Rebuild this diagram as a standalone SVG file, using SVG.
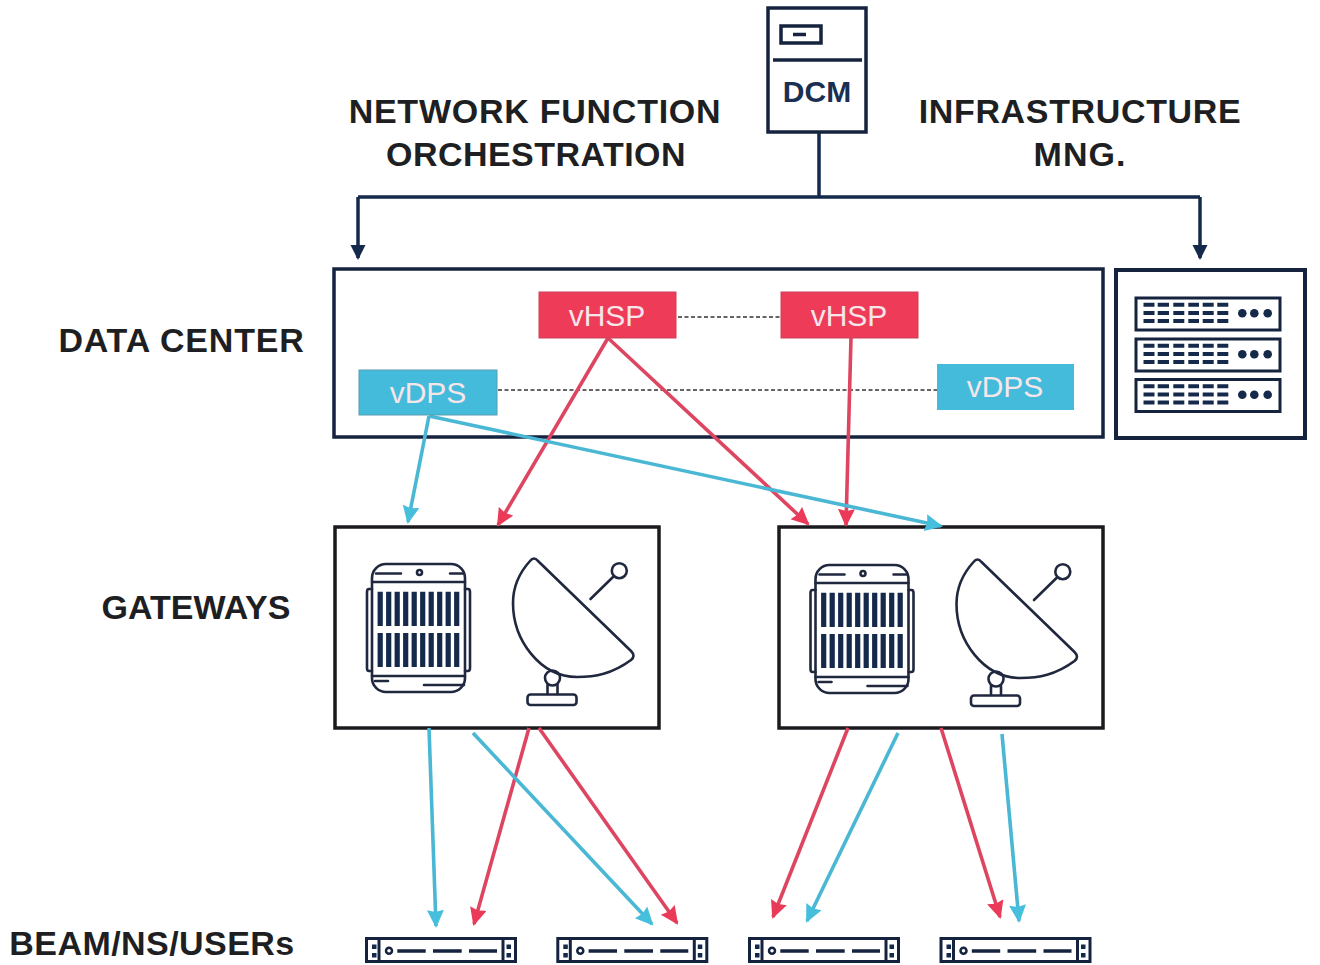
<svg xmlns="http://www.w3.org/2000/svg" width="1320" height="965" viewBox="0 0 1320 965">
<style>
.lbl{font-family:"Liberation Sans",Arial,sans-serif;font-weight:700;font-size:34px;fill:#1e1f22;text-anchor:middle}
.box{fill:#fff;stroke:#15233f;stroke-width:3.5}
.gw{fill:#fff;stroke:#1b1b1f;stroke-width:3.500}
.tag{font-family:"Liberation Sans",Arial,sans-serif;font-size:30px;fill:#f6e6ea;text-anchor:middle}
.ic{fill:none;stroke:#20283f;stroke-width:2.6;stroke-linecap:round;stroke-linejoin:round}
.fillb{fill:#15294b}
.red{stroke:#dd4560;stroke-width:3.600;fill:none;marker-end:url(#ar)}
.blue{stroke:#4ab8d4;stroke-width:3.600;fill:none;marker-end:url(#ab)}
.navy{stroke:#15294b;stroke-width:3.500;fill:none}
.dash{stroke:#333;stroke-width:1.400;stroke-dasharray:4 2.500;fill:none}
</style>
<defs>
<marker id="ar" markerUnits="userSpaceOnUse" markerWidth="19" markerHeight="18" refX="16" refY="8.500" orient="auto"><path d="M0,0L18,8.500L0,17L2,8.500Z" fill="#ea3a58"/></marker>
<marker id="ab" markerUnits="userSpaceOnUse" markerWidth="19" markerHeight="18" refX="16" refY="8.500" orient="auto"><path d="M0,0L18,8.500L0,17L2,8.500Z" fill="#45bfdc"/></marker>
<marker id="an" markerUnits="userSpaceOnUse" markerWidth="16" markerHeight="16" refX="13" refY="7.500" orient="auto"><path d="M0,0L15,7.500L0,15Z" fill="#15294b"/></marker>
<g id="unit">
<rect x="1136" y="298" width="144" height="32" fill="#fff" stroke="#15233f" stroke-width="3"/>
<path d="M1143.500,304.700h11m3.200,0h11.300m4.300,0h11m4,0h10.700m3.700,0h11m3.600,0h11M1143.500,313h11m3.200,0h11.300m4.300,0h11m4,0h10.700m3.700,0h11m3.600,0h11M1143.500,321h11m3.200,0h11.300m4.300,0h11m4,0h10.700m3.700,0h11m3.600,0h11" stroke="#15294b" stroke-width="4" fill="none"/>
<circle class="fillb" cx="1242.300" cy="313.300" r="4.300"/><circle class="fillb" cx="1254.300" cy="313.300" r="4.300"/><circle class="fillb" cx="1267.700" cy="313.300" r="4.300"/>
</g>
<g id="gwicons">
<rect class="ic" x="372" y="564" width="93" height="128" rx="14"/>
<path class="ic" d="M372,582H465M372,676H465M376,573.500H401M450,573.500H464M375,681H388M424,685H464M372,589H369Q367,589 367,592V668Q367,671 369,671H372M465,589H468Q470,589 470,592V668Q470,671 468,671H465"/>
<circle class="ic" cx="419.500" cy="572.500" r="2.500" stroke-width="1.500"/>
<path stroke="#15294b" stroke-width="5.200" fill="none" d="M380.200,591.700V626M388.700,591.700V626M397.200,591.700V626M405.700,591.700V626M414.200,591.700V626M422.700,591.700V626M431.200,591.700V626M439.700,591.700V626M448.200,591.700V626M456.700,591.700V626M380.200,633V667M388.700,633V667M397.200,633V667M405.700,633V667M414.200,633V667M422.700,633V667M431.200,633V667M439.700,633V667M448.200,633V667M456.700,633V667"/>
<path class="ic" stroke-width="3.400" d="M530,561Q534,556 538,561L631,651Q636,656 631,660C612,674 595,677 577,677C540,677 513,640 513,603C513,585 520,572 530,561Z"/>
<path class="ic" stroke-width="3.400" d="M590.500,599L613,577"/>
<circle class="ic" stroke-width="3.400" cx="619.300" cy="570.700" r="7.500"/>
<circle class="ic" stroke-width="3.400" cx="552.500" cy="678" r="7.500"/>
<path class="ic" stroke-width="3.400" d="M547.500,685V694M557.500,685V694"/>
<rect class="ic" stroke-width="3.400" x="527.500" y="694.500" width="49" height="10.500" rx="3"/>
</g>
<g id="srv">
<rect x="366.500" y="938.500" width="149" height="23" fill="#fff" stroke="#15233f" stroke-width="3"/>
<path d="M379,938V962M503,938V962" stroke="#15233f" stroke-width="3"/>
<rect class="fillb" x="372" y="944.500" width="4.500" height="4.500"/><rect class="fillb" x="372" y="953" width="4.500" height="4.500"/><rect class="fillb" x="506.500" y="944.500" width="4.500" height="4.500"/><rect class="fillb" x="506.500" y="953" width="4.500" height="4.500"/>
<circle cx="389" cy="950.700" r="3" fill="none" stroke="#15233f" stroke-width="2.500"/>
<path d="M397.300,951H425.700M433,951H461.700M469,951H497" stroke="#15233f" stroke-width="3.500"/>
</g>
</defs>

<rect width="1320" height="965" fill="#fff"/>

<g id="labels">
<text class="lbl" x="535" y="123" letter-spacing="0.75">NETWORK FUNCTION</text>
<text class="lbl" x="536" y="166" letter-spacing="0.45">ORCHESTRATION</text>
<text class="lbl" x="1080" y="123" letter-spacing="0.65">INFRASTRUCTURE</text>
<text class="lbl" x="1080" y="166" letter-spacing="1">MNG.</text>
<text class="lbl" x="181.500" y="352" letter-spacing="0.8">DATA CENTER</text>
<text class="lbl" x="196" y="619">GATEWAYS</text>
<text class="lbl" x="152" y="955" letter-spacing="0.45">BEAM/NS/USERs</text>
</g>

<g id="dcm">
<rect class="box" x="768" y="8" width="98" height="124"/>
<rect x="781" y="26" width="40" height="17" fill="#fff" stroke="#15233f" stroke-width="3.500"/>
<path d="M793,34.500H806" stroke="#15233f" stroke-width="3.500"/>
<path d="M773,60H862" stroke="#15233f" stroke-width="3.500"/>
<text x="817" y="102" font-family="Liberation Sans,Arial,sans-serif" font-weight="700" font-size="30" fill="#1a2f52" text-anchor="middle">DCM</text>
</g>

<g id="data-center"><rect x="334" y="269" width="769" height="168" fill="#fff" stroke="#15233f" stroke-width="3.500"/></g>

<g id="infrastructure">
<rect x="1116" y="270" width="189" height="168" fill="#fff" stroke="#15233f" stroke-width="4"/>
<use href="#unit"/><use href="#unit" y="41"/><use href="#unit" y="81.500"/>
</g>

<g id="gateway-1"><rect class="gw" x="335" y="527" width="324" height="201"/><use href="#gwicons"/></g>
<g id="gateway-2"><rect class="gw" x="779" y="527" width="324" height="201"/><use href="#gwicons" x="443.500" y="1"/></g>

<g id="server-1"><use href="#srv"/></g>
<g id="server-2"><use href="#srv" x="191.300"/></g>
<g id="server-3"><use href="#srv" x="383"/></g>
<g id="server-4"><use href="#srv" x="574.500"/></g>

<g id="connectors">
<path class="navy" d="M819,132V197M358,197H1200"/>
<path class="navy" d="M1200,197V258" marker-end="url(#an)"/>
<path class="navy" d="M358,197V258" marker-end="url(#an)"/>
<path class="dash" d="M678,317H781M498,390H937"/>
<path class="blue" d="M429,416L408,522"/>
<path class="red" d="M608,338L498,525"/>
<path class="red" d="M608,338L808,524"/>
<path class="red" d="M851,338L846,525"/>
<path class="blue" d="M429,416L941,526"/>
<path class="blue" d="M429,728L436,926"/>
<path class="red" d="M529,728L474,924"/>
<path class="blue" d="M473,733L652,924"/>
<path class="red" d="M539,728L677,923"/>
<path class="red" d="M848,728L773,917"/>
<path class="blue" d="M898,733L807,921"/>
<path class="red" d="M941,728L1000,917"/>
<path class="blue" d="M1002,734L1019,921"/>
</g>

<g id="vhsp-1"><rect x="539" y="292" width="137" height="46" fill="#ee3b58" stroke="#c9435c"/><text class="tag" x="607" y="326">vHSP</text></g>
<g id="vhsp-2"><rect x="781" y="292" width="137" height="46" fill="#ee3b58" stroke="#c9435c"/><text class="tag" x="849" y="326">vHSP</text></g>
<g id="vdps-1"><rect x="359" y="370" width="138" height="45" fill="#45bbdb" stroke="#5a9db2"/><text class="tag" x="428" y="403">vDPS</text></g>
<g id="vdps-2"><rect x="937" y="364" width="137" height="46" fill="#45bbdb"/><text class="tag" x="1005" y="397">vDPS</text></g>
</svg>
